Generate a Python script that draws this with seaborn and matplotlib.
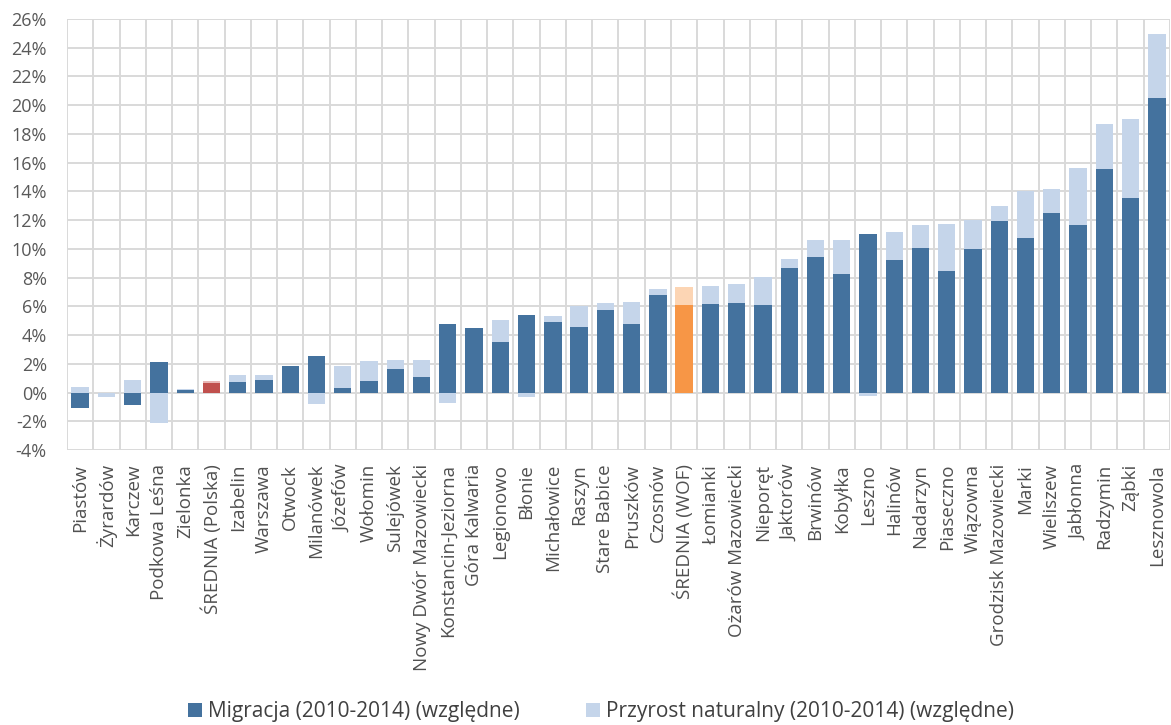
import numpy as np
import pandas as pd
import matplotlib
matplotlib.use("Agg")
import matplotlib.pyplot as plt
from matplotlib.patches import Patch
from matplotlib.ticker import FixedLocator
import seaborn as sns

gminy = [
    "Piastów", "Żyrardów", "Karczew", "Podkowa Leśna", "Zielonka",
    "ŚREDNIA (Polska)", "Izabelin", "Warszawa", "Otwock", "Milanówek",
    "Józefów", "Wołomin", "Sulejówek", "Nowy Dwór Mazowiecki",
    "Konstancin-Jeziorna", "Góra Kalwaria", "Legionowo", "Błonie",
    "Michałowice", "Raszyn", "Stare Babice", "Pruszków", "Czosnów",
    "ŚREDNIA (WOF)", "Łomianki", "Ożarów Mazowiecki", "Nieporęt",
    "Jaktorów", "Brwinów", "Kobyłka", "Leszno", "Halinów", "Nadarzyn",
    "Piaseczno", "Wiązowna", "Grodzisk Mazowiecki", "Marki", "Wieliszew",
    "Jabłonna", "Radzymin", "Ząbki", "Lesznowola",
]

# Migration balance 2010-2014, % of population
migracja = [
    -1.05, 0.00, -0.88, 2.13, 0.15,
    0.65, 0.74, 0.90, 1.86, 2.55,
    0.33, 0.79, 1.67, 1.07,
    4.78, 4.50, 3.53, 5.38,
    4.90, 4.55, 5.71, 4.78, 6.80,
    6.10, 6.15, 6.24, 6.06,
    8.70, 9.44, 8.24, 11.02, 9.21, 10.07,
    8.45, 10.00, 11.95, 10.77, 12.50,
    11.65, 15.55, 13.55, 20.50,
]

# Natural increase 2010-2014, % of population
przyrost = [
    0.40, -0.33, 0.86, -2.10, 0.08,
    0.15, 0.46, 0.30, 0.00, -0.77,
    1.53, 1.42, 0.58, 1.18,
    -0.70, 0.00, 1.55, -0.30,
    0.42, 1.46, 0.51, 1.50, 0.44,
    1.23, 1.25, 1.30, 2.00,
    0.58, 1.16, 2.37, -0.26, 1.95, 1.60,
    3.27, 2.00, 1.04, 3.25, 1.70,
    3.97, 3.13, 5.48, 4.48,
]

y_ticks = list(range(-4, 27, 2))

legend_labels = [
    "Migracja (2010-2014) (względne)",
    "Przyrost naturalny (2010-2014) (względne)",
]

DARK = "#44729e"
LIGHT = "#c5d5ea"
dark_colors = {g: DARK for g in gminy}
light_colors = {g: LIGHT for g in gminy}
dark_colors["ŚREDNIA (Polska)"] = "#c0504d"
light_colors["ŚREDNIA (Polska)"] = "#e8b7b5"
dark_colors["ŚREDNIA (WOF)"] = "#f79646"
light_colors["ŚREDNIA (WOF)"] = "#fcd5b4"

mig = np.array(migracja)
nat = np.array(przyrost)
df = pd.DataFrame({"gmina": gminy, "mig": mig, "nat": nat})
# Excel-style stacking: positive parts stack upward, negative parts downward
df["mig_pos"] = np.clip(mig, 0, None)
df["mig_neg"] = np.clip(mig, None, 0)
df["tot_pos"] = df["mig_pos"] + np.clip(nat, 0, None)
df["tot_neg"] = df["mig_neg"] + np.clip(nat, None, 0)

sns.set_style("white")
plt.rcParams["font.family"] = ["Open Sans", "DejaVu Sans"]

fig = plt.figure(figsize=(11.71, 7.25), dpi=100)
ax = fig.add_axes([67 / 1171, 1 - 450 / 725, 1103 / 1171, 431 / 725])

W = 0.66
common = dict(x="gmina", hue="gmina", order=gminy, hue_order=gminy,
              dodge=False, legend=False, width=W, linewidth=0,
              saturation=1, ax=ax, zorder=3)
sns.barplot(data=df, y="tot_pos", palette=light_colors, **common)
sns.barplot(data=df, y="tot_neg", palette=light_colors, **common)
sns.barplot(data=df, y="mig_pos", palette=dark_colors, **common)
sns.barplot(data=df, y="mig_neg", palette=dark_colors, **common)

n = len(gminy)
ax.set_xlim(-0.5, n - 0.5)
ax.set_ylim(y_ticks[0], y_ticks[-1])
ax.set_yticks(y_ticks)
ax.set_yticklabels([f"{t}%" for t in y_ticks])
ax.xaxis.set_minor_locator(FixedLocator(np.arange(-0.5, n, 1.0)))
ax.grid(True, which="major", axis="y", color="#d9d9d9", linewidth=1.4, zorder=0)
ax.grid(True, which="minor", axis="x", color="#d9d9d9", linewidth=1.4, zorder=0)
ax.grid(False, which="major", axis="x")
ax.set_axisbelow(True)
for s in ax.spines.values():
    s.set_visible(False)
ax.set_xlabel("")
ax.set_ylabel("")
ax.tick_params(axis="both", which="both", length=0)
ax.tick_params(axis="y", labelsize=13, labelcolor="#595959", pad=14.5)
ax.tick_params(axis="x", labelsize=13.5, labelcolor="#505050", pad=10)
ax.set_xticks(range(n))
ax.set_xticklabels(gminy, rotation=90, ha="center", va="top")

handles = [Patch(facecolor=DARK, edgecolor="none"),
           Patch(facecolor=LIGHT, edgecolor="none")]
fig.legend(handles, legend_labels, loc="center", bbox_to_anchor=(601 / 1171, 1 - 712 / 725),
           ncol=2, frameon=False, fontsize=15, handlelength=0.65, handleheight=0.65,
           handletextpad=0.3, columnspacing=3.2, labelcolor="#404040")

fig.savefig("out.png", dpi=100)
